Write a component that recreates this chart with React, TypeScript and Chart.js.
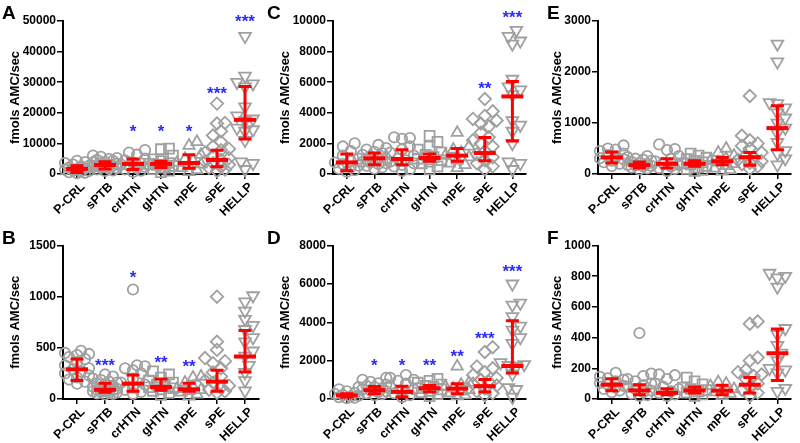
import React, { useEffect, useRef } from 'react';
import { Chart, registerables } from 'chart.js';

Chart.register(...registerables);

const CATEGORIES = ['P-CRL', 'sPTB', 'crHTN', 'gHTN', 'mPE', 'sPE', 'HELLP'];
const Y_TITLE = 'fmols AMC/sec';

// ---------- Panel A ----------
const A_VALUES: number[][] = [
  [4300, 3900, 3600, 3100, 2700, 2400, 2100, 1800, 1600, 1400, 1200, 1000, 800, 600, 400, 300],
  [6000, 5600, 5200, 4900, 4600, 4300, 4000, 3800, 3500, 3300, 3100, 2900, 2700, 2500, 2300, 2100, 1900, 1700, 1500, 1200, 1000],
  [7800, 7000, 6300, 5000, 4500, 3800, 3400, 3100, 2700, 2300, 1900, 1500, 1100, 700],
  [8300, 8100, 6000, 4800, 4200, 3600, 3300, 3000, 2600, 2100, 1600, 1100, 600],
  [10500, 9300, 6300, 5000, 4300, 3700, 3200, 2600, 2000, 1300, 700],
  [23000, 16700, 16500, 14000, 12600, 10500, 9000, 8200, 7800, 7000, 6000, 5200, 4600, 4100, 3500, 3000, 2400, 2000, 1500, 1000],
  [45000, 32000, 30000, 29500, 28500, 22000, 19000, 18000, 17500, 15000, 14500, 14000, 11000, 4000, 3500, 1500],
];
const A_MEDIAN = [1650, 2950, 3300, 3300, 3600, 4600, 17700];
const A_Q1 = [450, 1650, 1500, 2100, 1850, 2400, 11400];
const A_Q3 = [2700, 4000, 4900, 4200, 6300, 7800, 28600];
const A_STARS = ['', '', '*', '*', '*', '***', '***'];
const A_STAR_Y = [0, 0, 15100, 15100, 15100, 27600, 51000];

// ---------- Panel B ----------
const B_VALUES: number[][] = [
  [470, 450, 440, 430, 410, 390, 360, 330, 300, 290, 270, 250, 230, 210, 190, 170, 150],
  [240, 220, 200, 185, 170, 160, 150, 140, 130, 120, 110, 100, 95, 90, 85, 80, 75, 70, 65, 60, 55, 50, 45],
  [1070, 330, 320, 300, 280, 250, 200, 160, 140, 110, 90, 70, 50],
  [270, 240, 210, 180, 160, 140, 125, 115, 105, 95, 80, 60, 40],
  [220, 210, 160, 120, 100, 90, 80, 65, 45, 25],
  [1000, 560, 480, 400, 370, 350, 300, 260, 220, 180, 160, 130, 110, 90, 75, 60],
  [1010, 950, 860, 780, 720, 680, 600, 560, 470, 420, 330, 260, 180, 80],
];
const B_MEDIAN = [290, 90, 150, 117, 95, 170, 415];
const B_Q1 = [180, 65, 75, 85, 75, 75, 265];
const B_Q3 = [390, 155, 235, 195, 155, 280, 670];
const B_STARS = ['', '***', '*', '**', '**', '', ''];
const B_STAR_Y = [0, 368, 1230, 394, 358, 0, 0];

// ---------- Panel C ----------
const C_VALUES: number[][] = [
  [2000, 1800, 1500, 1200, 1000, 850, 750, 650, 550, 450, 350, 250, 150],
  [1900, 1700, 1600, 1450, 1350, 1250, 1150, 1050, 1000, 950, 900, 850, 800, 750, 700, 650, 550, 450, 350],
  [2400, 2350, 2300, 1800, 1600, 1400, 1200, 1000, 900, 800, 700, 600, 500, 300, 200],
  [2500, 2100, 1800, 1600, 1400, 1250, 1100, 1000, 900, 800, 700, 500, 300],
  [2700, 1800, 1600, 1400, 1200, 1100, 900, 700, 600, 400],
  [4900, 4100, 3800, 3600, 3500, 3300, 3100, 2700, 2400, 2200, 2000, 1800, 1500, 1300, 1100, 900, 700, 500, 300],
  [9400, 9000, 8700, 8500, 6200, 5700, 5500, 5200, 3500, 3200, 2800, 2000, 800, 700, 300],
];
const C_MEDIAN = [760, 1020, 980, 1050, 1200, 1370, 5070];
const C_Q1 = [220, 610, 610, 830, 830, 870, 2150];
const C_Q3 = [1300, 1370, 1590, 1300, 1670, 2390, 6050];
const C_STARS = ['', '', '', '', '', '**', '***'];
const C_STAR_Y = [0, 0, 0, 0, 0, 5870, 10500];

// ---------- Panel D ----------
const D_VALUES: number[][] = [
  [620, 500, 400, 320, 260, 200, 170, 130, 100, 70, 40],
  [1100, 1000, 900, 820, 750, 680, 620, 560, 500, 450, 400, 350, 300, 250, 200],
  [1250, 1100, 1000, 950, 800, 650, 500, 400, 300, 200, 100],
  [1050, 950, 850, 750, 680, 620, 560, 500, 420, 350, 250, 150],
  [1700, 850, 750, 650, 550, 480, 400, 300, 200, 150],
  [2700, 2450, 1700, 1600, 1400, 1250, 1100, 1000, 900, 800, 700, 550, 400, 300, 200],
  [6000, 5000, 4900, 4300, 3800, 3600, 3200, 2900, 1900, 1800, 1750, 1700, 1300, 600, 500, 100],
];
const D_MEDIAN = [190, 460, 370, 560, 540, 670, 1720];
const D_Q1 = [100, 270, 110, 360, 270, 360, 1350];
const D_Q3 = [270, 650, 670, 700, 790, 1010, 4080];
const D_STARS = ['', '*', '*', '**', '**', '***', '***'];
const D_STAR_Y = [0, 1956, 1970, 1970, 2410, 3350, 6850];

// ---------- Panel E ----------
const E_VALUES: number[][] = [
  [560, 500, 480, 450, 400, 370, 340, 310, 290, 260, 230, 200, 160],
  [350, 330, 300, 280, 260, 240, 220, 200, 180, 170, 160, 150, 130, 110, 90],
  [580, 490, 470, 350, 300, 250, 210, 180, 150, 120, 100, 60],
  [400, 360, 320, 290, 260, 230, 210, 190, 160, 130, 100, 80, 60],
  [500, 420, 360, 300, 260, 230, 200, 160, 110, 80, 50],
  [1530, 750, 660, 600, 550, 500, 420, 360, 310, 280, 250, 220, 190, 150, 100],
  [2550, 2200, 1400, 1380, 1300, 1200, 1100, 1000, 900, 800, 620, 460, 400, 300, 180],
];
const E_MEDIAN = [325, 175, 200, 200, 250, 330, 900];
const E_Q1 = [215, 117, 117, 150, 180, 170, 475];
const E_Q3 = [430, 234, 300, 260, 325, 423, 1340];
const E_STARS = ['', '', '', '', '', '', ''];
const E_STAR_Y = [0, 0, 0, 0, 0, 0, 0];

// ---------- Panel F ----------
const F_VALUES: number[][] = [
  [170, 145, 135, 125, 115, 105, 95, 85, 75, 65, 55, 45],
  [430, 165, 150, 130, 115, 100, 90, 80, 65, 55, 45, 35, 25, 20],
  [160, 155, 130, 100, 80, 65, 50, 40, 30, 20],
  [140, 115, 95, 75, 65, 58, 50, 42, 30, 20],
  [110, 100, 85, 65, 55, 45, 35, 20],
  [505, 490, 270, 250, 190, 175, 160, 150, 130, 100, 80, 60, 40, 20],
  [820, 800, 790, 730, 460, 420, 350, 300, 250, 200, 190, 170, 70, 50],
];
const F_MEDIAN = [93, 56, 40, 56, 54, 93, 298];
const F_Q1 = [54, 28, 28, 39, 28, 39, 121];
const F_Q3 = [132, 93, 67, 78, 89, 140, 456];
const F_STARS = ['', '', '', '', '', '', ''];
const F_STAR_Y = [0, 0, 0, 0, 0, 0, 0];

// ---------- styling ----------
const FONT = 'Arial, "Liberation Sans", Helvetica, sans-serif';
const GRAY = '#a0a0a0';
const RED = '#ff0000';
const BLUE = '#2b2bff';
const POINT_STYLES = ['circle', 'circle', 'circle', 'rect', 'triangle', 'rectRot', 'triangle'];
const POINT_ROT = [0, 0, 0, 0, 0, 0, 180];
const POINT_RADII = [5.2, 5.2, 5.2, 7, 6.5, 6.2, 6.8];

const AXIS_X = 63; // y-axis position inside each canvas
const PLOT_W = 196;
const COLS = [
  { left: 0, width: 270, padLeft: 8, letterX: 2 },
  { left: 270, width: 265, padLeft: 8, letterX: 267 },
  { left: 535, width: 265, padLeft: 15, letterX: 547 },
];
const ROWS = [
  { top: 0, height: 221, padTop: 21, axisH: 47, letterY: 3 },
  { top: 221, height: 222, padTop: 24.5, axisH: 44, letterY: 228 },
];

type PanelCfg = {
  letter: string; col: number; row: number; yMax: number; step: number;
  values: number[][]; med: number[]; q1: number[]; q3: number[]; stars: string[]; starY: number[];
};

const PANELS: PanelCfg[] = [
  { letter: 'A', col: 0, row: 0, yMax: 50000, step: 10000, values: A_VALUES, med: A_MEDIAN, q1: A_Q1, q3: A_Q3, stars: A_STARS, starY: A_STAR_Y },
  { letter: 'B', col: 0, row: 1, yMax: 1500, step: 500, values: B_VALUES, med: B_MEDIAN, q1: B_Q1, q3: B_Q3, stars: B_STARS, starY: B_STAR_Y },
  { letter: 'C', col: 1, row: 0, yMax: 10000, step: 2000, values: C_VALUES, med: C_MEDIAN, q1: C_Q1, q3: C_Q3, stars: C_STARS, starY: C_STAR_Y },
  { letter: 'D', col: 1, row: 1, yMax: 8000, step: 2000, values: D_VALUES, med: D_MEDIAN, q1: D_Q1, q3: D_Q3, stars: D_STARS, starY: D_STAR_Y },
  { letter: 'E', col: 2, row: 0, yMax: 3000, step: 1000, values: E_VALUES, med: E_MEDIAN, q1: E_Q1, q3: E_Q3, stars: E_STARS, starY: E_STAR_Y },
  { letter: 'F', col: 2, row: 1, yMax: 1000, step: 200, values: F_VALUES, med: F_MEDIAN, q1: F_Q1, q3: F_Q3, stars: F_STARS, starY: F_STAR_Y },
];

// Deterministic beeswarm spreading (layout only) — returns offsets in category units
function swarmOffsets(values: number[], pxPerVal: number, pxPerCat: number): number[] {
  const order = values.map((_, i) => i).sort((a, b) => values[a] - values[b]);
  const placed: { x: number; y: number }[] = [];
  const out = new Array(values.length).fill(0);
  const MIN = 8, STEP = 4, MAXK = 6;
  for (const idx of order) {
    const y = values[idx] * pxPerVal;
    let best = 0, bestScore = -1;
    for (let k = 0; k <= MAXK; k++) {
      const off = (k % 2 === 1 ? 1 : -1) * Math.ceil(k / 2) * STEP;
      let minD = Infinity;
      for (const p of placed) minD = Math.min(minD, Math.hypot(p.x - off, p.y - y));
      if (minD >= MIN) { best = off; bestScore = Infinity; break; }
      if (minD > bestScore) { bestScore = minD; best = off; }
    }
    placed.push({ x: best, y });
    out[idx] = best / pxPerCat;
  }
  return out;
}

function Panel({ cfg }: { cfg: PanelCfg }) {
  const ref = useRef<HTMLCanvasElement>(null);
  const col = COLS[cfg.col];
  const row = ROWS[cfg.row];
  useEffect(() => {
    if (!ref.current) return;
    const plotH = row.height - row.padTop - row.axisH;
    const pxPerVal = plotH / cfg.yMax;
    const pxPerCat = PLOT_W / 7;
    const datasets = cfg.values.map((vals, gi) => {
      const offs = swarmOffsets(vals, pxPerVal, pxPerCat);
      return {
        label: CATEGORIES[gi],
        data: vals.map((v, j) => ({ x: gi + offs[j], y: v })),
        pointStyle: POINT_STYLES[gi] as any,
        rotation: POINT_ROT[gi],
        pointRadius: POINT_RADII[gi],
        pointBorderWidth: 1.8,
        borderColor: GRAY,
        backgroundColor: 'rgba(0,0,0,0)',
        showLine: false,
        clip: false as any,
      };
    });
    const summaryPlugin = {
      id: 'summary' + cfg.letter,
      afterDatasetsDraw(chart: any) {
        const { ctx } = chart;
        const x = chart.scales.x, y = chart.scales.y;
        ctx.save();
        ctx.strokeStyle = RED;
        cfg.med.forEach((m, i) => {
          const px = x.getPixelForValue(i);
          const ym = y.getPixelForValue(m);
          const y1 = y.getPixelForValue(cfg.q1[i]);
          const y3 = y.getPixelForValue(cfg.q3[i]);
          ctx.lineWidth = 3;
          ctx.beginPath();
          ctx.moveTo(px, y1); ctx.lineTo(px, y3);
          ctx.moveTo(px - 6.5, y1); ctx.lineTo(px + 6.5, y1);
          ctx.moveTo(px - 6.5, y3); ctx.lineTo(px + 6.5, y3);
          ctx.stroke();
          ctx.lineWidth = 4;
          ctx.beginPath();
          ctx.moveTo(px - 11, ym); ctx.lineTo(px + 11, ym);
          ctx.stroke();
        });
        ctx.fillStyle = BLUE;
        ctx.font = `bold 17px ${FONT}`;
        ctx.textAlign = 'center';
        ctx.textBaseline = 'alphabetic';
        cfg.stars.forEach((s, i) => {
          if (!s) return;
          ctx.fillText(s, x.getPixelForValue(i), y.getPixelForValue(cfg.starY[i]) + 9.5);
        });
        // rotated category labels under the x axis, anchored on the scale's tick positions
        ctx.fillStyle = '#000';
        ctx.font = `bold 12.5px ${FONT}`;
        ctx.textAlign = 'right';
        ctx.textBaseline = 'middle';
        CATEGORIES.forEach((c, i) => {
          const px = x.getPixelForValue(i);
          ctx.save();
          ctx.translate(px + 6, x.top + 11);
          ctx.rotate(-Math.PI / 4);
          ctx.fillText(c, 0, 0);
          ctx.restore();
        });
        ctx.restore();
      },
    };
    const chart = new Chart(ref.current, {
      type: 'scatter',
      data: { datasets: datasets as any },
      plugins: [summaryPlugin],
      options: {
        animation: false,
        responsive: false,
        maintainAspectRatio: false,
        devicePixelRatio: 1,
        layout: {
          padding: {
            left: col.padLeft,
            right: col.width - AXIS_X - PLOT_W,
            top: row.padTop,
            bottom: 0,
          },
        },
        plugins: { legend: { display: false }, tooltip: { enabled: false } },
        scales: {
          x: {
            type: 'linear',
            min: -0.5,
            max: 6.5,
            afterBuildTicks: (s: any) => { s.ticks = CATEGORIES.map((_, i) => ({ value: i })); },
            afterFit: (s: any) => { s.height = row.axisH; },
            ticks: { display: false, autoSkip: false },
            grid: { drawOnChartArea: false, drawTicks: true, tickLength: 5, color: '#000', lineWidth: 1.5 },
            border: { display: true, color: '#000', width: 2 },
          },
          y: {
            type: 'linear',
            min: 0,
            max: cfg.yMax,
            afterFit: (s: any) => { s.width = AXIS_X - col.padLeft; },
            ticks: {
              stepSize: cfg.step,
              padding: 1,
              color: '#000',
              font: { family: FONT, size: 12, weight: 'bold' },
              callback: (v: any) => String(v),
            },
            grid: { drawOnChartArea: false, drawTicks: true, tickLength: 6, color: '#000', lineWidth: 1.5 },
            border: { display: true, color: '#000', width: 2 },
            title: {
              display: true,
              text: Y_TITLE,
              color: '#000',
              padding: { top: 0, bottom: 0 },
              font: { family: FONT, size: 13, weight: 'bold' },
            },
          },
        },
      } as any,
    });
    return () => chart.destroy();
  }, []);
  return (
    <>
      <canvas
        ref={ref}
        width={col.width}
        height={row.height}
        style={{ position: 'absolute', left: col.left, top: row.top, width: col.width, height: row.height }}
      />
      <div
        style={{
          position: 'absolute', left: col.letterX, top: row.letterY, fontFamily: FONT,
          fontWeight: 'bold', fontSize: 19, lineHeight: '19px', color: '#000',
        }}
      >
        {cfg.letter}
      </div>
    </>
  );
}

export default function App() {
  return (
    <div style={{ position: 'absolute', left: 0, top: 0, width: 800, height: 443, background: '#fff', overflow: 'hidden' }}>
      {PANELS.map((p) => <Panel key={p.letter} cfg={p} />)}
    </div>
  );
}
